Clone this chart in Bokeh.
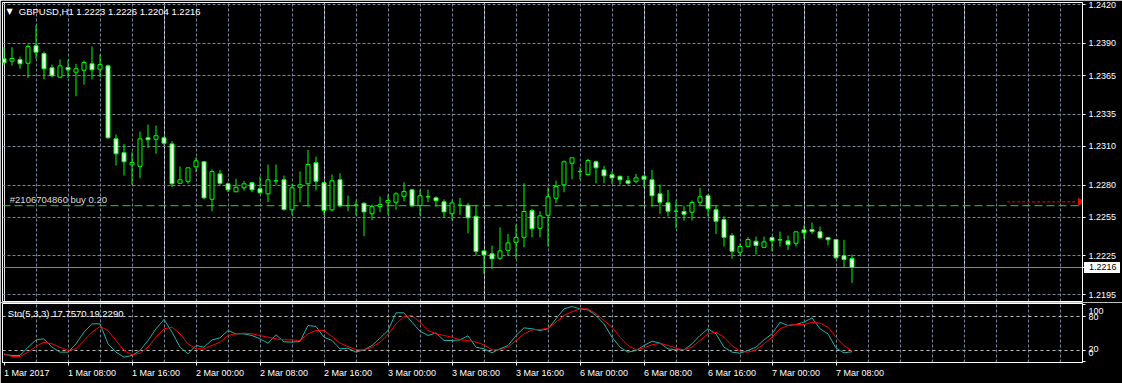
import math
from bokeh.plotting import figure
from bokeh.layouts import column
from bokeh.models import (Range1d, FixedTicker, Grid, Span, ColumnDataSource,
                          PrintfTickFormatter, LinearAxis, Div)
from bokeh.core.properties import value
from bokeh.embed import file_html
from bokeh.resources import INLINE

symbol = "GBPUSD,H1"

opens = [1.23781, 1.23762, 1.23775, 1.23746, 1.23882, 1.23822, 1.23711, 1.23638, 1.23713, 1.23677,
         1.23692, 1.23742, 1.23700, 1.23726, 1.23159, 1.23051, 1.22957, 1.22946, 1.23167, 1.23156,
         1.23167, 1.23120, 1.22814, 1.22830, 1.22942, 1.22981, 1.22690, 1.22887, 1.22810, 1.22748,
         1.22779, 1.22818, 1.22771, 1.22732, 1.22832, 1.22841, 1.22608, 1.22783, 1.22810, 1.22973,
         1.22818, 1.22608, 1.22841, 1.22640, 1.22643, 1.22659, 1.22577, 1.22633, 1.22662, 1.22667,
         1.22713, 1.22763, 1.22641, 1.22708, 1.22701, 1.22670, 1.22577, 1.22643, 1.22644, 1.22558,
         1.22289, 1.22266, 1.22232, 1.22294, 1.22356, 1.22395, 1.22602, 1.22465, 1.22566, 1.22698,
         1.22802, 1.22970, 1.22906, 1.22882, 1.22981, 1.22918, 1.22880, 1.22869, 1.22833, 1.22830,
         1.22869, 1.22841, 1.22732, 1.22662, 1.22598, 1.22595, 1.22589, 1.22667, 1.22717, 1.22608,
         1.22532, 1.22408, 1.22279, 1.22325, 1.22364, 1.22317, 1.22393, 1.22374, 1.22367, 1.22348,
         1.22452, 1.22455, 1.22437, 1.22393, 1.22377, 1.22251, 1.2223]
highs = [1.23871, 1.23871, 1.23798, 1.23892, 1.24039, 1.23837, 1.23736, 1.23775, 1.23773, 1.23742,
         1.23767, 1.23876, 1.23814, 1.23736, 1.23193, 1.23120, 1.23055, 1.23216, 1.23270, 1.23263,
         1.23177, 1.23141, 1.22944, 1.22936, 1.23016, 1.22985, 1.22921, 1.22918, 1.22820, 1.22849,
         1.22833, 1.22822, 1.22866, 1.22960, 1.22960, 1.22874, 1.22810, 1.22905, 1.23074, 1.23022,
         1.22822, 1.22882, 1.22892, 1.22719, 1.22680, 1.22665, 1.22649, 1.22711, 1.22727, 1.22745,
         1.22822, 1.22771, 1.22763, 1.22765, 1.22711, 1.22690, 1.22680, 1.22701, 1.22659, 1.22647,
         1.22297, 1.22331, 1.22473, 1.22421, 1.22494, 1.22814, 1.22616, 1.22597, 1.22783, 1.22835,
         1.22991, 1.23014, 1.22939, 1.23004, 1.22991, 1.22950, 1.22908, 1.22872, 1.22872, 1.22887,
         1.22877, 1.22918, 1.22804, 1.22763, 1.22680, 1.22641, 1.22680, 1.22779, 1.22732, 1.22641,
         1.22558, 1.22426, 1.22348, 1.22395, 1.22400, 1.22400, 1.22403, 1.22439, 1.22408, 1.22439,
         1.22486, 1.22509, 1.22478, 1.22400, 1.22379, 1.22375, 1.2226]
lows = [1.23729, 1.23729, 1.23703, 1.23633, 1.23781, 1.23622, 1.23638, 1.23636, 1.23633, 1.23490,
        1.23579, 1.23622, 1.23638, 1.23159, 1.22952, 1.22874, 1.22804, 1.22853, 1.23089, 1.23043,
        1.23107, 1.22783, 1.22810, 1.22810, 1.22900, 1.22690, 1.22597, 1.22802, 1.22745, 1.22745,
        1.22758, 1.22745, 1.22737, 1.22667, 1.22802, 1.22602, 1.22569, 1.22667, 1.22633, 1.22758,
        1.22569, 1.22597, 1.22628, 1.22597, 1.22564, 1.22403, 1.22530, 1.22589, 1.22569, 1.22608,
        1.22675, 1.22633, 1.22564, 1.22667, 1.22633, 1.22546, 1.22525, 1.22569, 1.22426, 1.22253,
        1.22111, 1.22150, 1.22219, 1.22253, 1.22227, 1.22317, 1.22395, 1.22395, 1.22323, 1.22659,
        1.22745, 1.22845, 1.22843, 1.22874, 1.22814, 1.22814, 1.22810, 1.22804, 1.22804, 1.22814,
        1.22783, 1.22633, 1.22577, 1.22556, 1.22465, 1.22525, 1.22525, 1.22641, 1.22556, 1.22421,
        1.22323, 1.22227, 1.22253, 1.22317, 1.22261, 1.22315, 1.22286, 1.22323, 1.22297, 1.22323,
        1.22383, 1.22421, 1.22383, 1.22331, 1.22227, 1.22162, 1.2204]
closes = [1.23750, 1.23783, 1.23742, 1.23876, 1.23832, 1.23703, 1.23649, 1.23726, 1.23695, 1.23703,
          1.23752, 1.23695, 1.23736, 1.23167, 1.23043, 1.22981, 1.22975, 1.23159, 1.23152, 1.23183,
          1.23125, 1.22810, 1.22841, 1.22934, 1.22988, 1.22701, 1.22905, 1.22814, 1.22763, 1.22783,
          1.22810, 1.22763, 1.22740, 1.22841, 1.22834, 1.22610, 1.22779, 1.22802, 1.22960, 1.22830,
          1.22602, 1.22833, 1.22639, 1.22642, 1.22645, 1.22592, 1.22633, 1.22649, 1.22680, 1.22732,
          1.22750, 1.22639, 1.22717, 1.22710, 1.22678, 1.22592, 1.22662, 1.22645, 1.22546, 1.22284,
          1.22258, 1.22227, 1.22289, 1.22351, 1.22393, 1.22595, 1.22460, 1.22561, 1.22709, 1.22789,
          1.22981, 1.23012, 1.22904, 1.22991, 1.22934, 1.22872, 1.22856, 1.22841, 1.22814, 1.22856,
          1.22845, 1.22717, 1.22667, 1.22597, 1.22596, 1.22574, 1.22665, 1.22709, 1.22616, 1.22519,
          1.22395, 1.22286, 1.22323, 1.22377, 1.22331, 1.22359, 1.22367, 1.22376, 1.22338, 1.22437,
          1.22429, 1.22439, 1.22390, 1.22375, 1.22235, 1.22222, 1.2216]

stoch_main = [13.0, 11.3, 11.3, 25.8, 38.6, 40.4, 25.8, 17.1, 17.1, 31.7,
              52.1, 66.6, 66.6, 31.7, 17.1, 8.3, 11.3, 20.0, 37.5, 57.9,
              74.2, 52.1, 25.8, 14.2, 28.7, 25.8, 38.6, 42.1, 55.0, 49.1,
              49.1, 46.2, 40.4, 32.8, 47.4, 35.2, 34.6, 35.7, 63.7, 62.0,
              43.3, 37.5, 22.9, 24.1, 17.1, 21.2, 28.7, 41.6, 55.0, 85.9,
              85.9, 69.5, 53.8, 46.2, 50.9, 37.5, 37.5, 38.6, 45.6, 25.8,
              22.9, 15.9, 22.9, 28.7, 46.2, 59.6, 57.9, 55.0, 57.9, 75.4,
              92.8, 96.9, 92.8, 91.1, 81.2, 66.6, 43.3, 25.8, 17.1, 20.0,
              28.7, 36.3, 32.8, 22.9, 21.2, 21.2, 31.7, 46.2, 57.9, 49.1,
              25.8, 17.1, 15.3, 20.0, 25.8, 38.6, 49.1, 69.5, 63.7, 65.5,
              69.5, 77.1, 57.9, 49.1, 24.1, 15.9, 17.7570]
stoch_signal = [14.2, 9.5, 9.5, 17.1, 27.0, 34.6, 31.7, 25.8, 20.0, 22.9,
                37.5, 52.1, 62.0, 55.0, 37.5, 20.0, 12.4, 15.3, 25.8, 43.3,
                57.9, 60.8, 49.1, 31.7, 22.9, 22.9, 28.7, 34.6, 46.2, 49.1,
                50.3, 49.1, 46.2, 43.3, 40.4, 38.6, 38.6, 37.5, 49.1, 55.0,
                55.0, 44.5, 32.8, 27.0, 21.2, 21.2, 25.8, 34.6, 48.0, 66.6,
                79.4, 81.2, 69.5, 55.0, 49.1, 46.2, 43.3, 38.6, 37.5, 34.6,
                29.9, 21.2, 21.2, 25.8, 37.5, 49.1, 56.1, 56.7, 59.0, 69.5,
                81.2, 87.9, 92.8, 92.8, 84.1, 72.4, 60.8, 43.3, 28.7, 21.2,
                24.7, 29.9, 32.8, 28.7, 24.1, 21.2, 25.8, 37.5, 49.1, 52.1,
                43.3, 28.7, 18.8, 17.1, 21.2, 31.7, 43.3, 57.9, 63.7, 65.5,
                65.5, 69.5, 67.8, 60.8, 43.3, 28.7, 19.2290]

price_ticks = [1.2195, 1.2225, 1.2255, 1.2280, 1.2310, 1.2335, 1.2365, 1.2390, 1.2420]
stoch_levels = [20, 80]
stoch_axis_values = [100, 80, 20, 0]
time_label_bars = [0, 8, 16, 24, 32, 40, 48, 56, 64, 72, 80, 88, 96, 104]
time_labels = ["1 Mar 2017", "1 Mar 08:00", "1 Mar 16:00", "2 Mar 00:00", "2 Mar 08:00",
               "2 Mar 16:00", "3 Mar 00:00", "3 Mar 08:00", "3 Mar 16:00", "6 Mar 00:00",
               "6 Mar 08:00", "6 Mar 16:00", "7 Mar 00:00", "7 Mar 08:00"]

order_ticket = "#2106704860"
order_type = "buy"
order_lots = 0.20
order_price = 1.2264
marker_price = 1.2267
marker_bars = [125.4, 134.2]

FONT = "Liberation Sans"
FS = 9  # px
LIME = "#00ff00"
GRID = "#778899"
FG = "white"

W = 1122
MAIN_H, MAIN_TOP, MAIN_BOTTOM = 302, 2, 1
FRAME_LEFT, AXIS_W = 2, 40
X_START, X_END = -0.1875, 134.8125
PX_PER_BAR = 8.0
Y_START, Y_END = 1.21896, 1.24218
S_START, S_END = -1.0, 102.2
S_FRAME_PX = 59.0

_EM = {" ": 0.278, ":": 0.278, "M": 0.833, "a": 0.556, "r": 0.333}
def text_w(s):
    return sum(_EM.get(ch, 0.556) for ch in s) * FS

n = len(closes)
idx = list(range(n))
src = ColumnDataSource(dict(
    x=idx, o=opens, h=highs, l=lows, c=closes,
    top=[max(o, c) for o, c in zip(opens, closes)],
    bottom=[min(o, c) for o, c in zip(opens, closes)],
    fill=["white" if c < o else "black" for o, c in zip(opens, closes)],
))

xr = Range1d(X_START, X_END)

p = figure(width=W, height=MAIN_H, x_range=xr, y_range=Range1d(Y_START, Y_END),
           y_axis_location="right", x_axis_location=None, toolbar_location=None,
           output_backend="svg", title=None,
           min_border_left=FRAME_LEFT, min_border_right=AXIS_W,
           min_border_top=MAIN_TOP, min_border_bottom=MAIN_BOTTOM,
           background_fill_color="black", border_fill_color="black",
           outline_line_color=FG, outline_line_width=1)

yax = p.yaxis[0]
yax.ticker = FixedTicker(ticks=price_ticks + [closes[-1]])
yax.formatter = PrintfTickFormatter(format="%.4f")
yax.axis_line_color = FG
yax.major_tick_line_color = FG
yax.major_tick_out = 3
yax.major_tick_in = 0
yax.minor_tick_line_color = None
yax.major_label_text_color = FG
yax.major_label_text_font = FONT
yax.major_label_text_font_size = f"{FS}px"
yax.major_label_standoff = 3

p.ygrid.ticker = FixedTicker(ticks=price_ticks)
p.ygrid.grid_line_color = GRID
p.ygrid.grid_line_dash = "3 2"
p.ygrid.grid_line_width = 1
p.add_layout(Grid(dimension=0, ticker=FixedTicker(ticks=list(range(4, 135, 4))),
                  grid_line_color=GRID, grid_line_dash="3 2", grid_line_width=1))

p.add_layout(Span(location=closes[-1], dimension="width", line_color=GRID,
                  line_width=1, level="underlay"))
p.add_layout(Span(location=order_price, dimension="width", line_color="#32cd32",
                  line_width=1, line_dash="8 4", level="underlay"))

p.line(x=marker_bars, y=[marker_price, marker_price], line_color="red", line_width=1, line_dash="3 2")
p.scatter(x=[marker_bars[1] + 0.35], y=[marker_price], marker="triangle", angle=-math.pi / 2,
          size=7, fill_color="red", line_color="red")

p.segment(x0="x", y0="l", x1="x", y1="h", source=src, line_color=LIME, line_width=1)
p.vbar(x="x", width=0.5, top="top", bottom="bottom", source=src,
       fill_color="fill", line_color=LIME, line_width=1)

title_txt = f"{symbol}  {opens[-1]:.4f} {highs[-1]:.4f} {lows[-1]:.4f} {closes[-1]:.4f}"
p.text(x=[X_START], y=[Y_END], text=["\u25bc"], x_offset=4, y_offset=9,
       text_baseline="middle", text_align="left", text_font=value("DejaVu Sans"),
       text_font_size="8px", text_color=FG)
p.text(x=[X_START], y=[Y_END], text=[title_txt], x_offset=16.3, y_offset=8.7,
       text_baseline="middle", text_align="left", text_font=value(FONT),
       text_font_size="9.5px", text_color=FG)
p.text(x=[X_START], y=[order_price], text=[f"{order_ticket} {order_type} {order_lots:.2f}"],
       x_offset=7.3, y_offset=-6, text_baseline="middle", text_align="left",
       text_font=value(FONT), text_font_size="9.5px", text_color="#dcdcdc")

# ---------- stochastic panel ----------
p2 = figure(width=W, height=81, x_range=xr, y_range=Range1d(S_START, S_END),
            y_axis_location="right", toolbar_location=None, output_backend="svg", title=None,
            min_border_left=FRAME_LEFT, min_border_right=AXIS_W, min_border_top=1, min_border_bottom=21,
            background_fill_color="black", border_fill_color="black",
            outline_line_color=FG, outline_line_width=1)

xax = p2.xaxis[0]
xax.ticker = FixedTicker(ticks=time_label_bars)
xax.major_label_overrides = {b: "" for b in time_label_bars}
xax.major_label_text_font_size = "0px"
xax.major_label_standoff = 0
xax.axis_line_color = FG
xax.major_tick_line_color = FG
xax.major_tick_out = 3
xax.major_tick_in = 0
xax.minor_tick_line_color = None

label_pos = [round(b + text_w(t) / 2 / PX_PER_BAR, 4) for b, t in zip(time_label_bars, time_labels)]
xlab = LinearAxis(ticker=FixedTicker(ticks=label_pos),
                  major_label_overrides={pos: t for pos, t in zip(label_pos, time_labels)},
                  axis_line_color=None, major_tick_line_color=None, minor_tick_line_color=None,
                  major_tick_out=0, major_tick_in=0, major_label_standoff=2,
                  major_label_text_color=FG, major_label_text_font=FONT,
                  major_label_text_font_size=f"{FS}px")
p2.add_layout(xlab, "below")

y2 = p2.yaxis[0]
y2.ticker = FixedTicker(ticks=stoch_axis_values)
y2.major_label_overrides = {v: "" for v in stoch_axis_values}
y2.major_label_text_font_size = "0px"
y2.major_label_standoff = 0
y2.axis_line_color = FG
y2.major_tick_line_color = FG
y2.major_tick_out = 3
y2.major_tick_in = 0
y2.minor_tick_line_color = None

px_per_unit = S_FRAME_PX / (S_END - S_START)
nudge_px = [6.4, 1.0, -1.7, -8.7]  # positive = drawn lower
ylab_pos = [round(v - d / px_per_unit, 3) for v, d in zip(stoch_axis_values, nudge_px)]
ylab = LinearAxis(ticker=FixedTicker(ticks=ylab_pos),
                  major_label_overrides={pos: str(v) for pos, v in zip(ylab_pos, stoch_axis_values)},
                  axis_line_color=None, major_tick_line_color=None, minor_tick_line_color=None,
                  major_tick_out=0, major_tick_in=0, major_label_standoff=3,
                  major_label_text_color=FG, major_label_text_font=FONT,
                  major_label_text_font_size=f"{FS}px")
p2.add_layout(ylab, "right")

p2.xgrid.visible = False
p2.ygrid.visible = False
p2.add_layout(Grid(dimension=0, ticker=FixedTicker(ticks=list(range(4, 135, 4))),
                   grid_line_color=GRID, grid_line_dash="3 2", grid_line_width=1))
p2.add_layout(Grid(dimension=1, ticker=FixedTicker(ticks=stoch_levels),
                   grid_line_color="#c0c0c0", grid_line_dash="3 3", grid_line_width=1))

p2.line(idx, stoch_main, line_color="#20b2aa", line_width=1)
p2.line(idx, stoch_signal, line_color="red", line_width=1)

p2.text(x=[X_START], y=[S_END], text=[f"Sto(5,3,3) {stoch_main[-1]:.4f} {stoch_signal[-1]:.4f}"],
        x_offset=5.3, y_offset=10.3, text_baseline="middle", text_align="left",
        text_font=value(FONT), text_font_size="9.5px", text_color=FG)

# current-price box on the price scale (the terminal's white bid marker)
frame_h = MAIN_H - MAIN_TOP - MAIN_BOTTOM
bid_y = MAIN_TOP + (Y_END - closes[-1]) / (Y_END - Y_START) * frame_h
box_h = 11
bid_box = Div(text=f"{closes[-1]:.4f}", width=36, height=box_h, margin=0,
              styles={"position": "absolute", "left": f"{W - AXIS_W + 2}px",
                      "top": f"{round(bid_y - box_h / 2)}px", "margin": "0px",
                      "background-color": "white", "color": "black",
                      "font-family": FONT, "font-size": f"{FS}px",
                      "line-height": f"{box_h}px", "padding-left": "5px",
                      "box-sizing": "border-box", "overflow": "hidden",
                      "z-index": "10"})

layout = column(p, p2, bid_box, spacing=0)
open("out.html", "w").write(file_html(layout, INLINE))
